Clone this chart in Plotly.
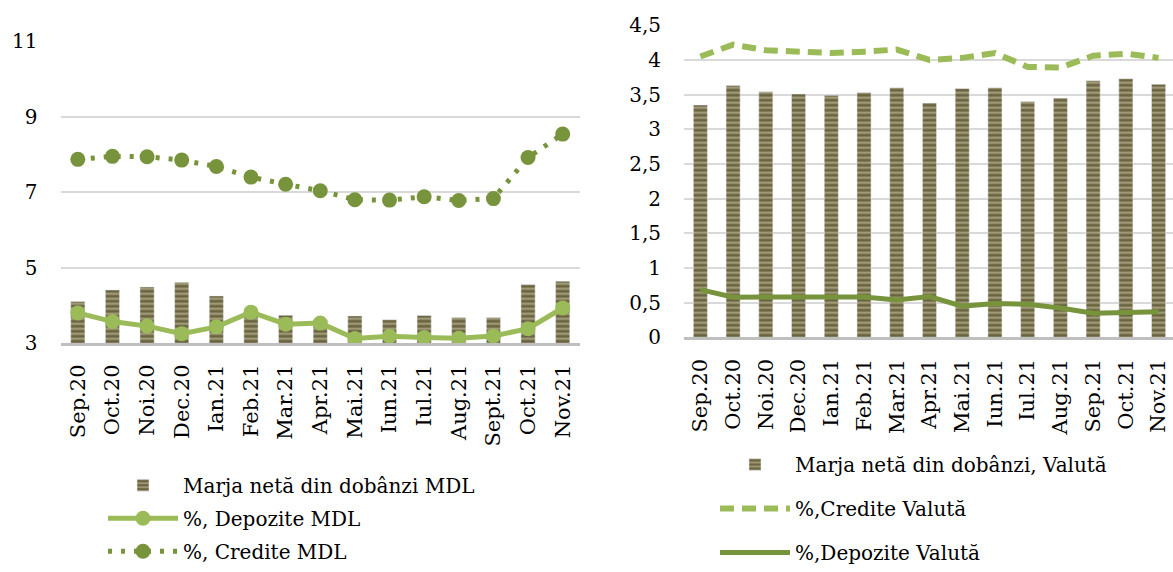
import plotly.graph_objects as go

# ---------------- data ----------------
months_mdl = ["Sep.20", "Oct.20", "Noi.20", "Dec.20", "Ian.21", "Feb.21", "Mar.21", "Apr.21",
              "Mai.21", "Iun.21", "Iul.21", "Aug.21", "Sept.21", "Oct.21", "Nov.21"]
months_val = ["Sep.20", "Oct.20", "Noi.20", "Dec.20", "Ian.21", "Feb.21", "Mar.21", "Apr.21",
              "Mai.21", "Iun.21", "Iul.21", "Aug.21", "Sep.21", "Oct.21", "Nov.21"]

marja_mdl = [4.10, 4.41, 4.49, 4.61, 4.25, 3.75, 3.74, 3.62, 3.72, 3.62, 3.73, 3.68, 3.68, 4.55, 4.64]
depozite_mdl = [3.80, 3.57, 3.45, 3.25, 3.43, 3.82, 3.50, 3.53, 3.12, 3.18, 3.15, 3.13, 3.19, 3.38, 3.93]
credite_mdl = [7.87, 7.95, 7.94, 7.85, 7.68, 7.40, 7.21, 7.04, 6.80, 6.79, 6.88, 6.78, 6.83, 7.92, 8.54]

marja_val = [3.35, 3.63, 3.54, 3.51, 3.49, 3.53, 3.60, 3.38, 3.59, 3.60, 3.40, 3.45, 3.70, 3.73, 3.65]
credite_val = [4.05, 4.22, 4.14, 4.11, 4.10, 4.12, 4.15, 4.00, 4.03, 4.10, 3.90, 3.89, 4.06, 4.09, 4.03]
depozite_val = [0.69, 0.58, 0.585, 0.59, 0.59, 0.585, 0.54, 0.59, 0.45, 0.49, 0.48, 0.425, 0.35, 0.36, 0.37]

left_yticks = [3, 5, 7, 9, 11]
right_yticks = [0, 0.5, 1, 1.5, 2, 2.5, 3, 3.5, 4, 4.5]

# ---------------- style ----------------
FONT = "DejaVu Serif"
LIGHT_GREEN = "#9bbb59"
DARK_GREEN = "#77933c"
BAR_DARK = "#6b6440"
BAR_LIGHT = "#e6dfc2"

W, H = 1173, 572
K = 0.987  # vertical compensation observed in the capture


def px_x(x):
    return x / W


def px_y(y):
    return (H - y / K) / H


bar_marker = dict(color=BAR_DARK,
                  pattern=dict(shape="-", fgcolor=BAR_LIGHT, bgcolor=BAR_DARK,
                               size=5, solidity=0.4))

fig = go.Figure()

# left chart
fig.add_trace(go.Bar(x=months_mdl, y=marja_mdl, name="Marja netă din dobânzi MDL",
                     marker=bar_marker, width=0.41, xaxis="x", yaxis="y",
                     legend="legend", legendgroup="a"))
fig.add_trace(go.Scatter(x=months_mdl, y=depozite_mdl, name="%, Depozite MDL",
                         mode="lines+markers", line=dict(color=LIGHT_GREEN, width=5),
                         marker=dict(size=15, color=LIGHT_GREEN),
                         xaxis="x", yaxis="y", legend="legend", legendgroup="b"))
fig.add_trace(go.Scatter(x=months_mdl, y=credite_mdl, name="%, Credite MDL",
                         mode="lines+markers",
                         line=dict(color=DARK_GREEN, width=5, dash="4px,9px"),
                         marker=dict(size=15, color=DARK_GREEN),
                         xaxis="x", yaxis="y", legend="legend", legendgroup="c"))

# right chart
fig.add_trace(go.Bar(x=months_val, y=marja_val, name="Marja netă din dobânzi, Valută",
                     marker=bar_marker, width=0.43, xaxis="x2", yaxis="y2",
                     legend="legend2", legendgroup="d"))
fig.add_trace(go.Scatter(x=months_val, y=credite_val, name="%,Credite Valută",
                         mode="lines", line=dict(color=LIGHT_GREEN, width=6, dash="14px,8px"),
                         xaxis="x2", yaxis="y2", legend="legend2", legendgroup="e"))
fig.add_trace(go.Scatter(x=months_val, y=depozite_val, name="%,Depozite Valută",
                         mode="lines", line=dict(color=DARK_GREEN, width=5),
                         xaxis="x2", yaxis="y2", legend="legend2", legendgroup="f"))

ytick_font = dict(family=FONT, size=20, color="#000")
xtick_font = dict(family=FONT, size=21, color="#000")

fig.update_layout(
    width=W, height=H,
    margin=dict(l=0, r=0, t=0, b=0),
    paper_bgcolor="white", plot_bgcolor="white",
    separators=", ",
    font=dict(family=FONT, size=20, color="#000"),
    xaxis=dict(domain=[px_x(60.5), px_x(580)], type="category", range=[-0.5, 14.5],
               tickangle=-90, showgrid=False, ticks="", ticklabelstandoff=10,
               tickfont=xtick_font, zeroline=False,
               showline=True, linecolor="#bfbfbf", linewidth=3, automargin=False,
               anchor="y"),
    yaxis=dict(domain=[px_y(349), px_y(42)], range=[3, 11],
               tickvals=left_yticks, showgrid=True, gridcolor="#d9d9d9", gridwidth=1.5,
               showline=False, zeroline=False, automargin=False, tickfont=ytick_font,
               ticklabelstandoff=22, anchor="x"),
    xaxis2=dict(domain=[px_x(684), 1.0], type="category", range=[-0.5, 14.44],
                tickangle=-90, showgrid=False, ticks="", ticklabelstandoff=10,
                tickfont=xtick_font, zeroline=False,
                showline=True, linecolor="#bfbfbf", linewidth=3, automargin=False,
                anchor="y2"),
    yaxis2=dict(domain=[px_y(343.3), px_y(25.7)], range=[0, 4.5],
                tickvals=right_yticks, showgrid=True, gridcolor="#d9d9d9", gridwidth=1.5,
                showline=False, zeroline=False, automargin=False, tickfont=ytick_font,
                ticklabelstandoff=22, anchor="x2"),
    legend=dict(x=px_x(103), y=(H - 480) / H, xanchor="left", yanchor="top",
                bgcolor="rgba(0,0,0,0)", font=dict(family=FONT, size=20, color="#000"),
                tracegroupgap=4, itemwidth=70),
    legend2=dict(x=px_x(715), y=(H - 459) / H, xanchor="left", yanchor="top",
                 bgcolor="rgba(0,0,0,0)", font=dict(family=FONT, size=20, color="#000"),
                 tracegroupgap=15, itemwidth=70),
    showlegend=True,
)

fig.write_html(
    "out.html",
    config={"displayModeBar": False},
    post_script=("document.body.style.margin='0';"
                 "document.body.style.overflow='hidden';"
                 "document.documentElement.style.overflow='hidden';"),
)
